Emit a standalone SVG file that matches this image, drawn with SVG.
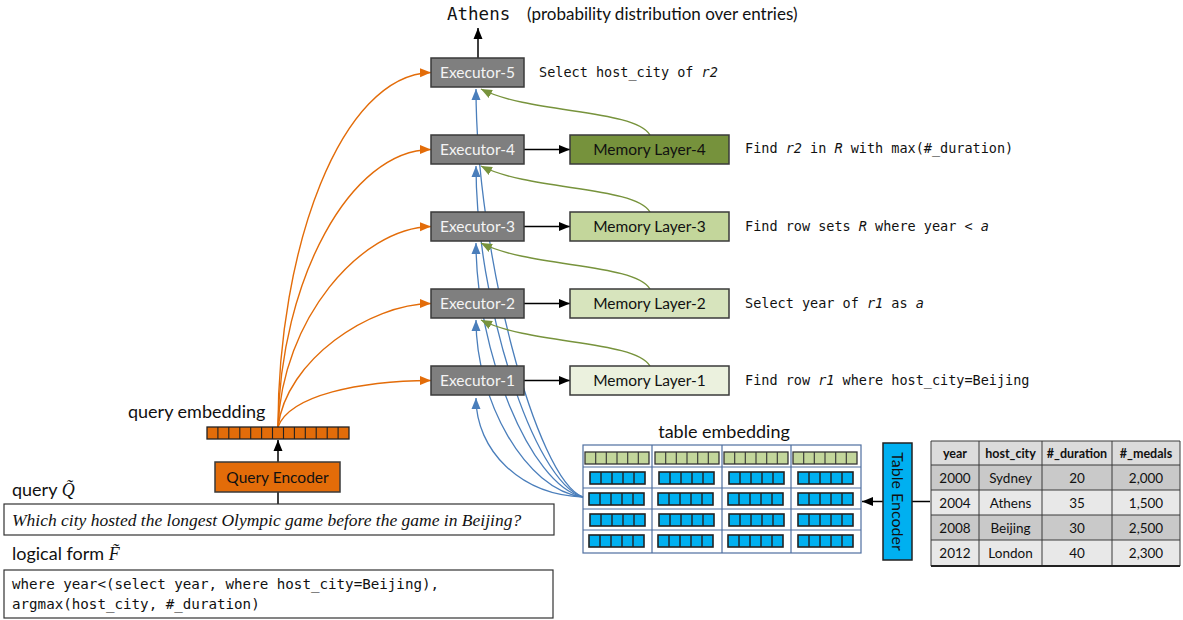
<svg xmlns="http://www.w3.org/2000/svg" xmlns:xlink="http://www.w3.org/1999/xlink" width="1183" height="620" viewBox="0 0 1183 620">
<style>
.sans{font-family:Lato,"Open Sans","DejaVu Sans",sans-serif;}
.mono{font-family:"DejaVu Sans Mono","Liberation Mono",monospace;font-size:13.5px;fill:#111;}
.exec rect{fill:#7F7F7F;stroke:#3A3A3A;stroke-width:1.5;}
.exec text{fill:#F4F4F4;font-size:15.5px;text-anchor:middle;}
.mem rect{stroke:#3A3A3A;stroke-width:1.5;}
.mem text{fill:#111;font-size:15.5px;text-anchor:middle;}
.or{fill:none;stroke:#E36C09;stroke-width:1.4;marker-end:url(#ao);}
.gr{fill:none;stroke:#77933C;stroke-width:1.4;marker-end:url(#ag);}
.bl{fill:none;stroke:#4A7EBB;stroke-width:1.3;marker-end:url(#ab);}
.bk{fill:none;stroke:#000;stroke-width:1.5;}
.bka{fill:none;stroke:#000;stroke-width:1.5;marker-end:url(#ak);}
.tb text{font-size:13.5px;text-anchor:middle;fill:#111;}
.tb .h{font-weight:bold;font-size:12.5px;}
.grid{fill:none;stroke:#4F6FA0;stroke-width:1.2;}
</style>
<defs>
<marker id="ao" markerWidth="12" markerHeight="10" refX="11" refY="5" orient="auto" markerUnits="userSpaceOnUse"><path d="M0,0.5 L11,5 L0,9.5 z" fill="#E36C09"/></marker>
<marker id="ag" markerWidth="12" markerHeight="10" refX="11" refY="5" orient="auto" markerUnits="userSpaceOnUse"><path d="M0,0.5 L11,5 L0,9.5 z" fill="#77933C"/></marker>
<marker id="ab" markerWidth="12" markerHeight="10" refX="11" refY="5" orient="auto" markerUnits="userSpaceOnUse"><path d="M0,0.5 L11,5 L0,9.5 z" fill="#4A7EBB"/></marker>
<marker id="ak" markerWidth="12" markerHeight="10" refX="11" refY="5" orient="auto" markerUnits="userSpaceOnUse"><path d="M0,0.5 L11,5 L0,9.5 z" fill="#000"/></marker>
<g id="gstrip">
<rect x="0" y="0" width="64" height="12" fill="#C3D69B" stroke="#333" stroke-width="1.3"/>
<path d="M10.7,0V12M21.3,0V12M32,0V12M42.7,0V12M53.3,0V12" stroke="#333" stroke-width="1.1"/>
</g>
<g id="bstrip">
<rect x="0" y="0" width="55" height="12" fill="#00B0F0" stroke="#222" stroke-width="1.6"/>
<path d="M11,0V12M22,0V12M33,0V12M44,0V12" stroke="#222" stroke-width="1.4"/>
</g>
</defs>
<rect width="1183" height="620" fill="#fff"/>

<!-- connectors -->
<g id="connectors">
<path class="bl" d="M583,497 C520,495 476,450 476,398"/>
<path class="bl" d="M583,497 C525,490 476,400 476,320"/>
<path class="bl" d="M583,497 C530,486 476,350 476,243"/>
<path class="bl" d="M583,497 C533,482 476,300 476,166"/>
<path class="bl" d="M583,497 C536,480 476,250 476,89"/>
<path class="or" d="M278,427 C278,250 340,75 431,72.5"/>
<path class="or" d="M278,427 C280,280 350,150 431,149.5"/>
<path class="or" d="M278,427 C282,320 360,228 431,226.5"/>
<path class="or" d="M278,427 C286,360 370,304 431,303.5"/>
<path class="or" d="M278,427 C290,395 360,381 431,380.5"/>
<path class="gr" d="M650,366 C635,340 530,345 481,320"/>
<path class="gr" d="M650,289 C635,263 530,268 481,243"/>
<path class="gr" d="M650,212 C635,186 530,191 481,166"/>
<path class="gr" d="M650,135 C635,109 530,114 481,89"/>
<line class="bka" x1="524" y1="149.5" x2="570" y2="149.5"/>
<line class="bka" x1="524" y1="226.5" x2="570" y2="226.5"/>
<line class="bka" x1="524" y1="303.5" x2="570" y2="303.5"/>
<line class="bka" x1="524" y1="380.5" x2="570" y2="380.5"/>
<line class="bka" x1="478" y1="58" x2="478" y2="28"/>
<line class="bka" x1="278" y1="462" x2="278" y2="440"/>
<line class="bk" x1="278" y1="492" x2="278" y2="504"/>
<line class="bk" x1="930" y1="501.5" x2="912" y2="501.5"/>
<line class="bka" x1="883" y1="501.5" x2="862" y2="501.5"/>
</g>

<g id="executor-5" class="exec sans"><rect x="431" y="58" width="93" height="29"/><text x="477.5" y="78">Executor-5</text></g>
<g id="executor-4" class="exec sans"><rect x="431" y="135" width="93" height="29"/><text x="477.5" y="155">Executor-4</text></g>
<g id="executor-3" class="exec sans"><rect x="431" y="212" width="93" height="29"/><text x="477.5" y="232">Executor-3</text></g>
<g id="executor-2" class="exec sans"><rect x="431" y="289" width="93" height="29"/><text x="477.5" y="309">Executor-2</text></g>
<g id="executor-1" class="exec sans"><rect x="431" y="366" width="93" height="29"/><text x="477.5" y="386">Executor-1</text></g>

<g id="memory-4" class="mem sans"><rect x="570" y="135" width="159" height="29" fill="#76923C"/><text x="649.5" y="155">Memory Layer-4</text></g>
<g id="memory-3" class="mem sans"><rect x="570" y="212" width="159" height="29" fill="#C3D69B"/><text x="649.5" y="232">Memory Layer-3</text></g>
<g id="memory-2" class="mem sans"><rect x="570" y="289" width="159" height="29" fill="#D7E4BD"/><text x="649.5" y="309">Memory Layer-2</text></g>
<g id="memory-1" class="mem sans"><rect x="570" y="366" width="159" height="29" fill="#EBF1DE"/><text x="649.5" y="386">Memory Layer-1</text></g>

<g id="descriptions">
<text class="mono" x="539" y="77">Select host_city of <tspan font-style="italic">r2</tspan></text>
<text class="mono" x="745" y="153">Find <tspan font-style="italic">r2</tspan> in <tspan font-style="italic">R</tspan> with max(#_duration)</text>
<text class="mono" x="745" y="231">Find row sets <tspan font-style="italic">R</tspan> where year &lt; <tspan font-style="italic">a</tspan></text>
<text class="mono" x="745" y="308">Select year of <tspan font-style="italic">r1</tspan> as <tspan font-style="italic">a</tspan></text>
<text class="mono" x="745" y="385">Find row <tspan font-style="italic">r1</tspan> where host_city=Beijing</text>
</g>

<g id="output">
<text x="447" y="20" font-family="DejaVu Sans Mono, Liberation Mono, monospace" font-size="17.5" fill="#111">Athens</text>
<text x="527" y="20" class="sans" font-size="17" fill="#111">(probability distribution over entries)</text>
</g>

<g id="query-embedding">
<text x="128" y="418" class="sans" font-size="18" fill="#111">query embedding</text>
<rect x="207" y="427" width="142" height="12" fill="#E36C09" stroke="#222" stroke-width="1.3"/>
<path d="M217.9,427V439M228.8,427V439M239.8,427V439M250.7,427V439M261.6,427V439M272.5,427V439M283.5,427V439M294.4,427V439M305.3,427V439M316.2,427V439M327.2,427V439M338.1,427V439" stroke="#222" stroke-width="1.1"/>
</g>
<g id="query-encoder">
<rect x="215" y="462" width="125" height="30" fill="#E36C09" stroke="#3A3A3A" stroke-width="1.5"/>
<text x="277.5" y="482.5" class="sans" font-size="15.5" text-anchor="middle" fill="#111">Query Encoder</text>
</g>
<g id="query">
<text x="12" y="496" class="sans" font-size="18" fill="#111">query <tspan font-family="Liberation Serif, serif" font-style="italic">Q̃</tspan></text>
<rect x="4" y="504" width="550" height="31" fill="#fff" stroke="#333" stroke-width="1.2"/>
<text x="12" y="526" font-family="Liberation Serif, serif" font-style="italic" font-size="17.5" fill="#111">Which city hosted the longest Olympic game before the game in Beijing?</text>
</g>
<g id="logical-form">
<text x="12" y="560" class="sans" font-size="18" fill="#111">logical form <tspan font-family="Liberation Serif, serif" font-style="italic">F̃</tspan></text>
<rect x="4" y="570" width="549" height="48" fill="#fff" stroke="#333" stroke-width="1.2"/>
<text x="12" y="589" font-family="DejaVu Sans Mono, Liberation Mono, monospace" font-size="14.2" fill="#111">where year&lt;(select year, where host_city=Beijing),</text>
<text x="12" y="609" font-family="DejaVu Sans Mono, Liberation Mono, monospace" font-size="14.2" fill="#111">argmax(host_city, #_duration)</text>
</g>

<g id="table-embedding">
<text x="724" y="438" class="sans" font-size="18" text-anchor="middle" fill="#111">table embedding</text>
<rect x="583" y="445" width="278" height="108" fill="#fff" class="grid"/>
<path class="grid" d="M583,467H861M583,488H861M583,509H861M583,530H861M652,445V553M722,445V553M791,445V553"/>
<use xlink:href="#gstrip" x="585" y="452"/>
<use xlink:href="#gstrip" x="655" y="452"/>
<use xlink:href="#gstrip" x="724" y="452"/>
<use xlink:href="#gstrip" x="793" y="452"/>
<use xlink:href="#bstrip" x="590" y="472"/>
<use xlink:href="#bstrip" x="659" y="472"/>
<use xlink:href="#bstrip" x="729" y="472"/>
<use xlink:href="#bstrip" x="798" y="472"/>
<use xlink:href="#bstrip" x="589" y="493"/>
<use xlink:href="#bstrip" x="658" y="493"/>
<use xlink:href="#bstrip" x="728" y="493"/>
<use xlink:href="#bstrip" x="798" y="493"/>
<use xlink:href="#bstrip" x="590" y="514"/>
<use xlink:href="#bstrip" x="659" y="514"/>
<use xlink:href="#bstrip" x="729" y="514"/>
<use xlink:href="#bstrip" x="798" y="514"/>
<use xlink:href="#bstrip" x="589" y="535"/>
<use xlink:href="#bstrip" x="658" y="535"/>
<use xlink:href="#bstrip" x="728" y="535"/>
<use xlink:href="#bstrip" x="798" y="535"/>
</g>

<g id="table-encoder">
<rect x="883" y="443" width="29" height="117" fill="#00B0F0" stroke="#222" stroke-width="1.5"/>
<text x="0" y="0" transform="translate(891.5,501.5) rotate(90)" class="sans" font-size="16" text-anchor="middle" fill="#111">Table Encoder</text>
</g>

<g id="table" class="tb sans">
<rect x="931" y="441" width="249" height="24" fill="#DCDCDC"/>
<rect x="931" y="465" width="249" height="25" fill="#C9C9C9"/>
<rect x="931" y="490" width="249" height="25" fill="#E8E8E8"/>
<rect x="931" y="515" width="249" height="25" fill="#C9C9C9"/>
<rect x="931" y="540" width="249" height="26" fill="#E8E8E8"/>
<path d="M931,441H1180M931,465H1180M931,490H1180M931,515H1180M931,540H1180M931,441V566M979,441V566M1042,441V566M1112,441V566M1180,441V566" stroke="#3A3A3A" stroke-width="1" fill="none"/>
<line x1="931" y1="566" x2="1180" y2="566" stroke="#222" stroke-width="2"/>
<text class="h" x="955" y="457.5">year</text>
<text class="h" x="1010.5" y="457.5">host_city</text>
<text class="h" x="1077" y="457.5">#_duration</text>
<text class="h" x="1146" y="457.5">#_medals</text>
<text x="955" y="482.5">2000</text><text x="1010.5" y="482.5">Sydney</text><text x="1077" y="482.5">20</text><text x="1146" y="482.5">2,000</text>
<text x="955" y="507.5">2004</text><text x="1010.5" y="507.5">Athens</text><text x="1077" y="507.5">35</text><text x="1146" y="507.5">1,500</text>
<text x="955" y="532.5">2008</text><text x="1010.5" y="532.5">Beijing</text><text x="1077" y="532.5">30</text><text x="1146" y="532.5">2,500</text>
<text x="955" y="557.5">2012</text><text x="1010.5" y="557.5">London</text><text x="1077" y="557.5">40</text><text x="1146" y="557.5">2,300</text>
</g>
</svg>
